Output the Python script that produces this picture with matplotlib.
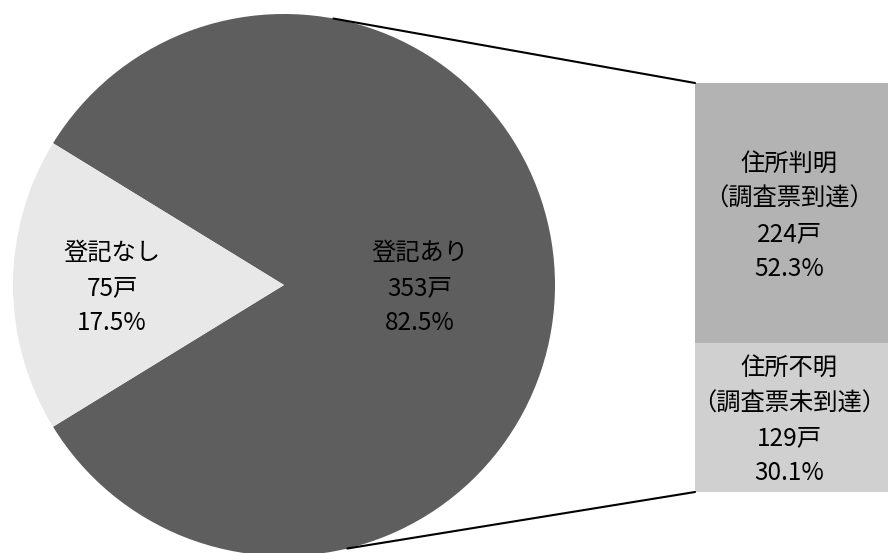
import matplotlib
matplotlib.use("Agg")
import matplotlib.pyplot as plt
from matplotlib.patches import ConnectionPatch
import numpy as np

plt.rcParams['font.family'] = ['Noto Sans CJK JP', 'DejaVu Sans']

# Data
pie_labels = ["登記あり", "登記なし"]
pie_values = [353, 75]
bar_labels = ["住所判明\n（調査票到達）", "住所不明\n（調査票未到達）"]
bar_values = [224, 129]
unit = "戸"

total = sum(pie_values)
W, H = 888, 553
fig = plt.figure(figsize=(W / 100, H / 100), dpi=100)
ax = fig.add_axes([0, 0, 1, 1])
ax.set_xlim(0, W)
ax.set_ylim(0, H)
ax.set_aspect('equal')
ax.axis('off')

cx, cy, R = 284, 268, 271
light_deg = pie_values[1] / total * 360
start = 180 + light_deg / 2
ax.pie(pie_values, center=(cx, cy), radius=R, startangle=start,
       colors=["#5e5e5e", "#e8e8e8"], wedgeprops=dict(linewidth=0))
ax.set_xlim(0, W)
ax.set_ylim(0, H)

fs = 17.5
ls = 1.45
# label positions along wedge mid-angles
mids = [0.0, 180.0]
dists = [0.50, 0.635]
for lab, v, m, d in zip(pie_labels, pie_values, mids, dists):
    x = cx + d * R * np.cos(np.radians(m))
    y = cy + d * R * np.sin(np.radians(m)) - 3
    ax.text(x, y, f"{lab}\n{v}{unit}\n{v / total * 100:.1f}%",
            ha='center', va='center', fontsize=fs, linespacing=ls,
            color='black')

# bar of split
ax2 = fig.add_axes([695 / W, (H - 492) / H, 200 / W, (492 - 83) / H])
ax2.set_xlim(-0.5, 0.5)
ax2.set_ylim(0, sum(bar_values))
ax2.axis('off')
bottom_v = bar_values[1]
top_v = bar_values[0]
ax2.bar(0, bottom_v, width=1.0, color="#d0d0d0", linewidth=0)
ax2.bar(0, top_v, bottom=bottom_v, width=1.0, color="#b3b3b3", linewidth=0)
xc = -0.03
ax2.text(xc, bottom_v + top_v / 2 - 3,
         f"{bar_labels[0]}\n{top_v}{unit}\n{top_v / total * 100:.1f}%",
         ha='center', va='center', fontsize=fs, linespacing=ls)
ax2.text(xc, bottom_v / 2 - 3,
         f"{bar_labels[1]}\n{bottom_v}{unit}\n{bottom_v / total * 100:.1f}%",
         ha='center', va='center', fontsize=fs, linespacing=ls)

# connector lines
for ang, yax in [(79.5, 1.0), (-76.5, 0.0)]:
    px = cx + R * np.cos(np.radians(ang))
    py = cy + R * np.sin(np.radians(ang))
    con = ConnectionPatch(xyA=(px, py), coordsA=ax.transData,
                          xyB=(0, yax), coordsB=ax2.transAxes,
                          color='black', linewidth=1.5)
    fig.add_artist(con)

fig.savefig("out.png", dpi=100, facecolor='white')
